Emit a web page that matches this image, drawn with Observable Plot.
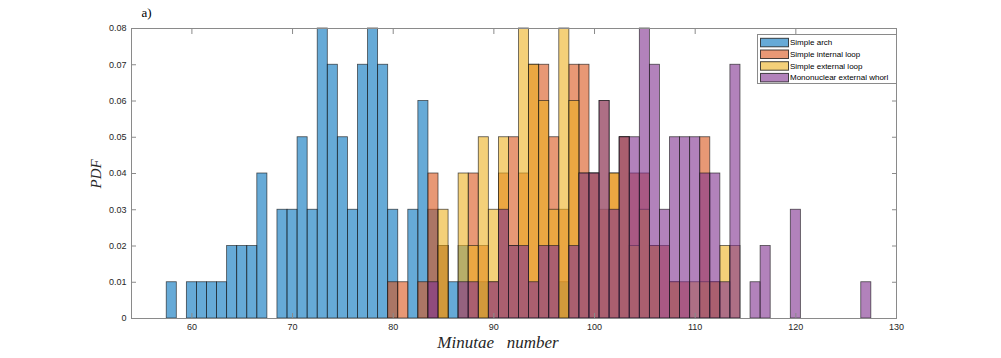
<!DOCTYPE html>
<html>
<head>
<meta charset="utf-8">
<script src="https://cdn.jsdelivr.net/npm/d3@7"></script>
<script src="https://cdn.jsdelivr.net/npm/@observablehq/plot@0.6"></script>
<style>
html, body { margin: 0; padding: 0; background: #fff; }
#chart svg { display: block; }
</style>
</head>
<body>
<div id="chart"></div>
<script>
// ---- Data ----
const seriesNames = ["Simple arch", "Simple internal loop", "Simple external loop", "Mononuclear external whorl"];
const seriesColors = ["#0072BD", "#D95319", "#EDB120", "#7E2F8E"];

// bin centres (minutiae count, bin width 1) and PDF values
const archBins = [58, 60, 61, 62, 63, 64, 65, 66, 67, 69, 70, 71, 72, 73, 74, 75, 76, 77, 78, 79, 80, 82, 83, 84, 85, 86, 87, 89, 97];
const archPdf  = [0.01, 0.01, 0.01, 0.01, 0.01, 0.02, 0.02, 0.02, 0.04, 0.03, 0.03, 0.05, 0.03, 0.08, 0.07, 0.05, 0.03, 0.07, 0.08, 0.07, 0.03, 0.03, 0.06, 0.03, 0.02, 0.01, 0.02, 0.01, 0.01];

const internalBins = [80, 81, 83, 84, 85, 88, 89, 90, 91, 92, 93, 94, 95, 96, 97, 98, 99, 100, 101, 102, 103, 104, 105, 106, 107, 108, 109, 111, 112];
const internalPdf  = [0.01, 0.01, 0.01, 0.04, 0.02, 0.04, 0.02, 0.01, 0.04, 0.05, 0.04, 0.07, 0.07, 0.05, 0.03, 0.07, 0.07, 0.04, 0.03, 0.04, 0.05, 0.04, 0.04, 0.02, 0.02, 0.01, 0.01, 0.05, 0.01];

const externalBins = [85, 87, 88, 89, 90, 91, 92, 93, 94, 95, 96, 97, 98, 99, 100, 101, 102, 103, 104, 105, 106, 108, 110, 111, 112, 113, 114];
const externalPdf  = [0.03, 0.04, 0.02, 0.05, 0.03, 0.05, 0.02, 0.08, 0.07, 0.06, 0.03, 0.08, 0.06, 0.04, 0.04, 0.06, 0.04, 0.05, 0.02, 0.03, 0.02, 0.01, 0.01, 0.01, 0.01, 0.02, 0.02];

const whorlBins = [84, 87, 88, 90, 91, 92, 93, 94, 95, 96, 98, 99, 100, 101, 102, 103, 104, 105, 106, 107, 108, 109, 110, 111, 112, 113, 114, 116, 117, 120, 127];
const whorlPdf  = [0.01, 0.01, 0.01, 0.01, 0.03, 0.02, 0.02, 0.01, 0.02, 0.02, 0.02, 0.04, 0.04, 0.06, 0.03, 0.05, 0.05, 0.08, 0.07, 0.03, 0.05, 0.05, 0.05, 0.04, 0.04, 0.01, 0.07, 0.01, 0.02, 0.03, 0.01];

const binWidth = 1;
const xDomain = [54, 130];
const yDomain = [0, 0.08];
const xTicks = [60, 70, 80, 90, 100, 110, 120, 130];
const yTicks = [0, 0.01, 0.02, 0.03, 0.04, 0.05, 0.06, 0.07, 0.08];
const xLabel = "Minutae   number";
const yLabel = "PDF";
const panelLabel = "a)";

// ---- Build tables ----
const seriesBins = [archBins, internalBins, externalBins, whorlBins];
const seriesPdf = [archPdf, internalPdf, externalPdf, whorlPdf];
const tables = seriesNames.map((name, i) =>
  seriesBins[i].map((b, j) => ({series: name, x1: b - binWidth / 2, x2: b + binWidth / 2, pdf: seriesPdf[i][j]}))
);

const axisGray = "#8a8a8a";
const textColor = "#262626";
const serif = "'Liberation Serif', 'Times New Roman', serif";

const histMarks = tables.map((t, i) =>
  Plot.rect(t, {
    x1: "x1", x2: "x2", y1: 0, y2: "pdf",
    fill: seriesColors[i], fillOpacity: 0.6,
    stroke: "#1a1a1a", strokeOpacity: 0.75, strokeWidth: 0.8
  })
);

const chart = Plot.plot({
  width: 1001,
  height: 358,
  marginLeft: 131,
  marginRight: 105,
  marginTop: 28,
  marginBottom: 40,
  style: {fontFamily: "'Liberation Sans', Arial, Helvetica, sans-serif", fontSize: "9px", color: textColor, background: "#fff"},
  x: {domain: xDomain, ticks: xTicks},
  y: {domain: yDomain, ticks: yTicks},
  marks: [
    ...histMarks,
    Plot.frame({stroke: axisGray, strokeWidth: 1}),
    // inward ticks on all four sides
    Plot.axisX({anchor: "bottom", ticks: xTicks, tickSize: -5, stroke: axisGray, tickFormat: () => "", label: null}),
    Plot.axisX({anchor: "top", ticks: xTicks, tickSize: -5, stroke: axisGray, tickFormat: () => "", label: null}),
    Plot.axisY({anchor: "left", ticks: yTicks, tickSize: -5, stroke: axisGray, tickFormat: () => "", label: null}),
    Plot.axisY({anchor: "right", ticks: yTicks, tickSize: -5, stroke: axisGray, tickFormat: () => "", label: null}),
    // tick labels
    Plot.axisX({anchor: "bottom", ticks: xTicks, tickSize: 0, tickPadding: 5, fill: textColor, label: null}),
    Plot.axisY({anchor: "left", ticks: yTicks, tickSize: 0, tickPadding: 5, fill: textColor, label: null,
      tickFormat: d => d === 0 ? "0" : d.toFixed(2)}),
    // axis titles
    Plot.text([xLabel], {frameAnchor: "bottom", dx: -16, dy: 29, text: d => d, fontFamily: serif,
      fontStyle: "italic", fontSize: 17, fill: textColor, letterSpacing: "2px"}),
    Plot.text([yLabel], {frameAnchor: "left", dx: -35, dy: 15, rotate: -90, text: d => d, fontFamily: serif,
      fontStyle: "italic", fontSize: 15, fill: textColor}),
    Plot.text([panelLabel], {frameAnchor: "top-left", dx: 10, dy: -21, text: d => d, fontFamily: serif,
      fontSize: 13, fill: "#000"})
  ]
});

document.getElementById("chart").appendChild(chart);

// ---- Legend (inside the axes, north-east) ----
const svg = d3.select(chart);
const lg = svg.append("g").attr("class", "legend").attr("text-anchor", "start");
const lgX = 757, lgY = 34, lgW = 139, lgH = 49, rowH = 11.7;
lg.append("rect").attr("x", lgX + 0.5).attr("y", lgY + 0.5).attr("width", lgW).attr("height", lgH)
  .attr("fill", "#fff").attr("stroke", axisGray).attr("stroke-width", 1);
seriesNames.forEach((name, i) => {
  const cy = lgY + 8.3 + i * rowH;
  lg.append("rect").attr("x", lgX + 3.5).attr("y", cy - 4).attr("width", 28).attr("height", 8.5)
    .attr("fill", seriesColors[i]).attr("fill-opacity", 0.6)
    .attr("stroke", "#1a1a1a").attr("stroke-opacity", 0.8).attr("stroke-width", 1);
  lg.append("text").attr("x", lgX + 33).attr("y", cy).attr("dy", "0.35em").attr("text-anchor", "start")
    .attr("font-family", "'Liberation Sans', Arial, Helvetica, sans-serif").attr("font-size", 8)
    .attr("fill", "#000").text(name);
});
</script>
</body>
</html>
